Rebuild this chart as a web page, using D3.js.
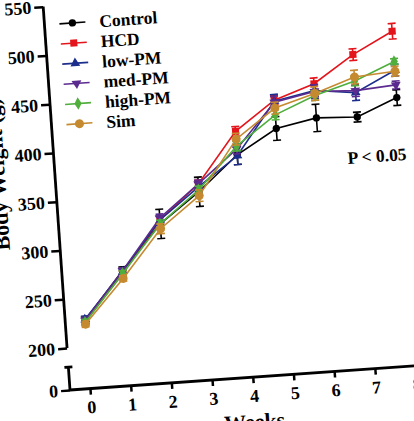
<!DOCTYPE html>
<html>
<head>
<meta charset="utf-8">
<script src="https://cdn.jsdelivr.net/npm/d3@7"></script>
<style>
  body { margin: 0; background: #fff; }
  svg { display: block; font-family: "Liberation Serif", "DejaVu Serif", serif; font-weight: bold; }
</style>
</head>
<body>
<svg id="chart" width="414" height="421"></svg>
<script>
// Weeks on the x axis
var weeks = [0, 1, 2, 3, 4, 5, 6, 7, 8]
var xTicks = [0, 1, 2, 3, 4, 5, 6, 7, 8]
var yTicks = [200, 250, 300, 350, 400, 450, 500, 550]

// Body weight (g), mean and error per group
var controlMean = [227, 275, 320, 350, 385, 409, 417, 415, 432]
var controlErr  = [4, 4, 15, 15, 10, 12, 14, 5, 8]
var hcdMean     = [226, 272, 324, 358, 409, 438, 452, 479, 500]
var hcdErr      = [3, 3, 4, 4, 5, 5, 6, 6, 8]
var lowMean     = [228, 274, 324, 355, 384, 437, 445, 440, 460]
var lowErr      = [3, 3, 4, 5, 9, 7, 6, 8, 6]
var medMean     = [227, 275, 326, 358, 391, 436, 444, 442, 445]
var medErr      = [3, 3, 4, 4, 5, 6, 7, 6, 4]
var highMean    = [225, 272, 320, 352, 394, 423, 440, 452, 469]
var highErr     = [3, 3, 4, 4, 5, 5, 5, 5, 3]
var simMean     = [223, 267, 315, 346, 401, 430, 442, 456, 459]
var simErr      = [3, 3, 5, 6, 6, 6, 7, 7, 5]

var groupNames = ['Control', 'HCD', 'low-PM', 'med-PM', 'high-PM', 'Sim']

var series = [
  {name: groupNames[0], mean: controlMean, err: controlErr, color: '#000000', shape: d3.symbolCircle,   size: 42, rot: 0},
  {name: groupNames[1], mean: hcdMean,     err: hcdErr,     color: '#e3141b', shape: d3.symbolSquare,   size: 50, rot: 0},
  {name: groupNames[2], mean: lowMean,     err: lowErr,     color: '#1c2e8c', shape: d3.symbolTriangle, size: 42, rot: 0},
  {name: groupNames[3], mean: medMean,     err: medErr,     color: '#5b2a8e', shape: d3.symbolTriangle, size: 42, rot: 180},
  {name: groupNames[4], mean: highMean,    err: highErr,    color: '#4fae3c', shape: d3.symbolDiamond,  size: 45, rot: 0},
  {name: groupNames[5], mean: simMean,     err: simErr,     color: '#c58a30', shape: d3.symbolCircle,   size: 64, rot: 0}
]

var svg = d3.select('#chart')

// the photo of the figure is tilted a few degrees, so the whole plot is rotated
var g = svg.append('g')
    .attr('transform', 'translate(70,390) rotate(-4)')

var x = d3.scaleLinear().domain([0, 8]).range([20, 346.4])
var y = d3.scaleLinear().domain([200, 550]).range([-42.1, -384.3])
// lower piece of the broken y axis, only holds the 0
var yLow = d3.scaleLinear().domain([0, 25]).range([0, -23])

// y axis, upper part
var yAxis = g.append('g')
    .call(d3.axisLeft(y).tickValues(yTicks).tickSize(9).tickPadding(3))
yAxis.select('.domain').attr('d', 'M0,' + y(200) + 'V' + y(550))

// y axis, lower part
var yAxisLow = g.append('g')
    .call(d3.axisLeft(yLow).tickValues([0]).tickSize(9).tickPadding(3))
yAxisLow.select('.domain').attr('d', 'M0,0V' + yLow(25) + 'M-4,' + yLow(25) + 'H4')

// x axis
var xAxis = g.append('g')
    .call(d3.axisBottom(x).tickValues(xTicks).tickSize(6).tickPadding(6))
xAxis.select('.domain').attr('d', 'M0,0H372')

g.selectAll('.domain')
    .attr('stroke', '#000')
    .attr('stroke-width', 2.8)
    .attr('fill', 'none')
g.selectAll('.tick line')
    .attr('stroke', '#000')
    .attr('stroke-width', 2.5)
g.selectAll('.tick text')
    .attr('fill', '#000')
    .style('font-size', '18px')
    .style('font-family', '"Liberation Serif", serif')
    .style('font-weight', 'bold')

// axis titles
g.append('text')
    .attr('transform', 'translate(-50,-220) rotate(-90)')
    .attr('text-anchor', 'middle')
    .style('font-size', '22px')
    .text('Body Weight (g)')

g.append('text')
    .attr('x', 182)
    .attr('y', 52)
    .attr('text-anchor', 'middle')
    .style('font-size', '22px')
    .text('Weeks')

// series: line, error bars, markers
var line = d3.line()
    .x(function(d, i) { return x(weeks[i]); })
    .y(function(d) { return y(d); })

series.forEach(function(s) {
  var sg = g.append('g')

  sg.append('path')
      .attr('d', line(s.mean))
      .attr('fill', 'none')
      .attr('stroke', s.color)
      .attr('stroke-width', 1.6)

  var bars = sg.selectAll('.bar')
      .data(s.mean)
      .join('g')
      .attr('class', 'bar')

  bars.append('path')
      .attr('d', function(d, i) {
        var cx = x(weeks[i])
        var top = y(d + s.err[i])
        var bot = y(d - s.err[i])
        return 'M' + cx + ',' + top + 'V' + bot +
               'M' + (cx - 4) + ',' + top + 'H' + (cx + 4) +
               'M' + (cx - 4) + ',' + bot + 'H' + (cx + 4)
      })
      .attr('fill', 'none')
      .attr('stroke', s.color)
      .attr('stroke-width', 1.6)

  sg.selectAll('.mark')
      .data(s.mean)
      .join('path')
      .attr('class', 'mark')
      .attr('d', d3.symbol().type(s.shape).size(s.size))
      .attr('transform', function(d, i) {
        return 'translate(' + x(weeks[i]) + ',' + y(d) + ') rotate(' + s.rot + ')'
      })
      .attr('fill', s.color)
})

// legend
var legend = g.append('g')
    .selectAll('g')
    .data(series)
    .join('g')
    .attr('transform', function(d, i) { return 'translate(0,' + (-366 + i * 20.2) + ')'; })

legend.append('line')
    .attr('x1', 15)
    .attr('x2', 41)
    .attr('stroke', function(d) { return d.color; })
    .attr('stroke-width', 1.6)

legend.append('path')
    .attr('d', function(d) { return d3.symbol().type(d.shape).size(d.size)(); })
    .attr('transform', function(d) { return 'translate(28,0) rotate(' + d.rot + ')'; })
    .attr('fill', function(d) { return d.color; })

legend.append('text')
    .attr('x', 55)
    .attr('dy', '0.35em')
    .style('font-size', '17.5px')
    .text(function(d) { return d.name; })

g.append('text')
    .attr('x', 293)
    .attr('y', -206)
    .style('font-size', '17.5px')
    .text('P < 0.05')
</script>
</body>
</html>
